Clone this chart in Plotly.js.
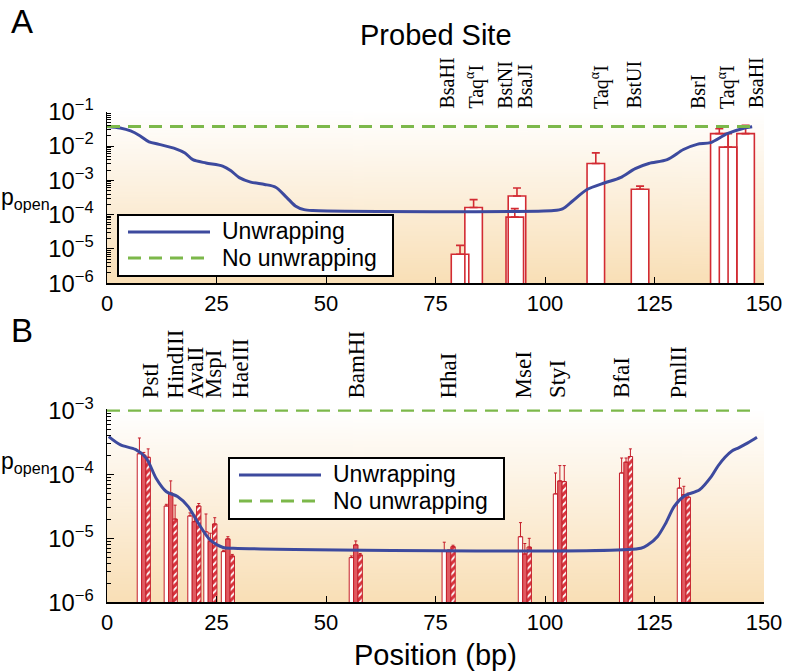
<!DOCTYPE html>
<html><head><meta charset="utf-8">
<script src="https://cdn.plot.ly/plotly-3.0.1.min.js"></script>
<style>html,body{margin:0;padding:0;background:#fff}</style>
</head><body><div id="chart" style="width:786px;height:672px"></div>
<script>
// ---------- Panel A data ----------
const curveA_x = [0, 3, 5.4, 7.5, 9.6, 11.9, 15.7, 17.8, 19.6, 22.6, 26.4, 28.3, 30.2, 32.8, 36, 38.5, 41, 43, 45, 47, 102, 104, 106.3, 109.6, 113.7, 117.2, 120.6, 123.7, 127.9, 131.6, 134.7, 137.8, 141.6, 145.4, 147.3];
const curveA_y = [0.0372, 0.0335, 0.0275, 0.0200, 0.0132, 0.0112, 0.0083, 0.0063, 0.0040, 0.0032, 0.0026, 0.0019, 0.0012, 0.00089, 0.00076, 0.00063, 0.00032, 0.00018, 0.00014, 0.000132, 0.000132, 0.000148, 0.00025, 0.00054, 0.00085, 0.0012, 0.0022, 0.0031, 0.0040, 0.0079, 0.0112, 0.0126, 0.0229, 0.0331, 0.0363];
const noUnwrapA_x = [0, 147];
const noUnwrapA_y = [0.037, 0.037];

const sitesA = ['BsaHI', 'Taq<sup>α</sup>I', 'BstNI', 'BsaJI', 'Taq<sup>α</sup>I', 'BstUI', 'BsrI', 'Taq<sup>α</sup>I', 'BsaHI'];
const labelPosA = [77.7, 84.0, 90.9, 95.4, 112.6, 120.3, 134.8, 141.4, 148.2];
const barA_x = [80.6, 83.7, 93.1, 93.6, 111.6, 121.7, 139.8, 141.8, 145.8];
const barA_y = [7.0e-6, 1.62e-4, 8.5e-5, 3.5e-4, 3.1e-3, 5.5e-4, 0.023, 0.0093, 0.023];
const barA_errTop = [1.27e-5, 2.75e-4, 1.5e-4, 6.0e-4, 6.3e-3, 6.8e-4, 0.032, 0.023, 0.040];

// ---------- Panel B data ----------
const curveB_x = [0.4, 3.1, 6.5, 9.0, 11.2, 13.5, 16.1, 18.5, 20.8, 23.5, 26.5, 28.8, 121.9, 123.5, 125.7, 127.6, 129.5, 131.8, 135.3, 138, 139.5, 141.1, 142.6, 144.2, 146.3, 148.4];
const curveB_y = [3.89e-4, 2.88e-4, 2.45e-4, 1.78e-4, 8.7e-5, 5.4e-5, 4.5e-5, 3.16e-5, 1.74e-5, 9.5e-6, 7.2e-6, 7.0e-6, 7.0e-6, 7.9e-6, 1.07e-5, 1.74e-5, 3.16e-5, 4.6e-5, 5.75e-5, 9.3e-5, 1.35e-4, 1.85e-4, 2.3e-4, 2.6e-4, 3.1e-4, 3.8e-4];
const noUnwrapB_x = [0, 148];
const noUnwrapB_y = [1e-3, 1e-3];

const sitesB = ['PstI', 'HindIII', 'AvaII', 'MspI', 'HaeIII', 'BamHI', 'HhaI', 'MseI', 'StyI', 'BfaI', 'PmlII'];
const labelPosB = [9.8, 15.7, 20.1, 24.5, 30.4, 56.9, 77.9, 95.1, 102.9, 117.6, 130.4];
const whiteB_x = [7.4, 13.55, 18.95, 22.6, 26.6, 55.8, 77.0, 94.4, 102.4, 117.5, 130.7];
const solidB_x = [8.4, 14.55, 19.95, 23.6, 27.6, 56.8, 78.0, 95.4, 103.4, 118.5, 131.7];
const hatchB_x = [9.4, 15.55, 20.95, 24.6, 28.6, 57.8, 79.0, 96.4, 104.4, 119.5, 132.7];
const whiteB_y = [2.1e-4, 3.2e-5, 2.24e-5, 1.26e-5, 6.2e-6, 5.0e-6, 6.4e-6, 1.06e-5, 4.95e-5, 1.05e-4, 6.1e-5];
const solidB_y = [2.0e-4, 5.1e-5, 1.82e-5, 8.9e-6, 9.8e-6, 7.9e-6, 6.2e-6, 5.7e-6, 7.9e-5, 1.55e-4, 4.8e-5];
const hatchB_y = [1.85e-4, 2.0e-5, 3.2e-5, 1.68e-5, 5.3e-6, 5.5e-6, 7.4e-6, 7.3e-6, 7.7e-5, 1.9e-4, 4.4e-5];
const whiteB_errTop = [3.7e-4, 3.4e-5, 2.5e-5, 2.4e-5, 6.5e-6, 5.3e-6, 8.7e-6, 1.76e-5, 1.05e-4, 1.8e-4, 8.7e-5];
const solidB_errTop = [2.2e-4, 7.9e-5, 2.3e-5, 1.2e-5, 1.06e-5, 9.1e-6, 6.6e-6, 8.3e-6, 1.37e-4, 1.8e-4, 6.5e-5];
const hatchB_errTop = [2.5e-4, 3.3e-5, 3.5e-5, 2.1e-5, 5.6e-6, 5.8e-6, 7.8e-6, 1.0e-5, 1.37e-4, 2.5e-4, 5.1e-5];

const seriesNames = ['Unwrapping', 'No unwrapping'];

// ---------- styling ----------
const W = 786, H = 672;
const SANS = 'Liberation Sans, Arial, sans-serif';
const SERIF = 'Liberation Serif, Times New Roman, serif';
const RED = '#d22b33', DKRED = '#c41e2a', BLUE = '#3d4a9e', GREEN = '#7cb84a';
const px = v => v / W, py = v => 1 - v / H;
const xDom = [px(107), px(764)];
const yDomA = [py(283.3), py(111.7)];
const yDomB = [py(602.3), py(409.4)];

const diff = (top, val) => top.map((t, i) => Math.max(t - val[i], 0));
const zeros = a => a.map(() => 0);

function gradientURI() {
  const c = document.createElement('canvas'); c.width = 4; c.height = 256;
  const g = c.getContext('2d');
  const lg = g.createLinearGradient(0, 0, 0, 256);
  lg.addColorStop(0, '#ffffff'); lg.addColorStop(1, '#f9dfb6');
  g.fillStyle = lg; g.fillRect(0, 0, 4, 256);
  return c.toDataURL();
}
const grad = gradientURI();

const traces = [];
// Panel A bars: fill pass then outline pass
traces.push({type: 'bar', x: barA_x, y: barA_y, width: 4, xaxis: 'x', yaxis: 'y', showlegend: false,
  marker: {color: 'white', line: {width: 0}}});
traces.push({type: 'bar', x: barA_x, y: barA_y, width: 4, xaxis: 'x', yaxis: 'y', showlegend: false,
  marker: {color: 'rgba(0,0,0,0)', line: {width: 1.6, color: RED}},
  error_y: {type: 'data', symmetric: false, array: diff(barA_errTop, barA_y), arrayminus: zeros(barA_y), color: RED, thickness: 1.6, width: 4}});
traces.push({type: 'scatter', mode: 'lines', x: curveA_x, y: curveA_y, name: seriesNames[0], showlegend: false,
  line: {color: BLUE, width: 3, shape: 'spline', smoothing: 0.8}, xaxis: 'x', yaxis: 'y'});
traces.push({type: 'scatter', mode: 'lines', x: noUnwrapA_x, y: noUnwrapA_y, name: seriesNames[1], showlegend: false,
  line: {color: GREEN, width: 3, dash: '13px,8px'}, xaxis: 'x', yaxis: 'y'});

// Panel B bars
traces.push({type: 'bar', x: whiteB_x, y: whiteB_y, width: 1, xaxis: 'x2', yaxis: 'y2', showlegend: false,
  marker: {color: 'white', line: {width: 1, color: DKRED}},
  error_y: {type: 'data', symmetric: false, array: diff(whiteB_errTop, whiteB_y), arrayminus: zeros(whiteB_y), color: DKRED, thickness: 1, width: 1.5}});
traces.push({type: 'bar', x: solidB_x, y: solidB_y, width: 1, xaxis: 'x2', yaxis: 'y2', showlegend: false,
  marker: {color: '#e05a61', line: {width: 1, color: DKRED}},
  error_y: {type: 'data', symmetric: false, array: diff(solidB_errTop, solidB_y), arrayminus: zeros(solidB_y), color: DKRED, thickness: 1, width: 1.5}});
traces.push({type: 'bar', x: hatchB_x, y: hatchB_y, width: 1, xaxis: 'x2', yaxis: 'y2', showlegend: false,
  marker: {color: '#d8343d', line: {width: 1, color: DKRED}, pattern: {shape: '/', bgcolor: '#d8343d', fgcolor: 'white', size: 5, solidity: 0.35, fillmode: 'replace'}},
  error_y: {type: 'data', symmetric: false, array: diff(hatchB_errTop, hatchB_y), arrayminus: zeros(hatchB_y), color: DKRED, thickness: 1, width: 1.5}});
traces.push({type: 'scatter', mode: 'lines', x: curveB_x, y: curveB_y, name: seriesNames[0], showlegend: false,
  line: {color: BLUE, width: 3, shape: 'spline', smoothing: 0.8}, xaxis: 'x2', yaxis: 'y2'});
traces.push({type: 'scatter', mode: 'lines', x: noUnwrapB_x, y: noUnwrapB_y, name: seriesNames[1], showlegend: false,
  line: {color: GREEN, width: 3, dash: '13px,8px'}, xaxis: 'x2', yaxis: 'y2'});

const xTicks = [0, 25, 50, 75, 100, 125, 150];
const xAxisCommon = {range: [0, 150], tickvals: xTicks, ticktext: xTicks.map(String), ticks: 'inside', ticklen: 6,
  tickcolor: '#000', showline: true, linecolor: '#000', linewidth: 1.5, showgrid: false, zeroline: false,
  tickfont: {family: SANS, size: 22, color: '#000'}, domain: xDom, fixedrange: true};
const yAxisCommon = {type: 'log', dtick: 1, exponentformat: 'power', ticks: 'inside', ticklen: 7, tickcolor: '#000',
  showline: true, linecolor: '#000', linewidth: 1.5, showgrid: false, zeroline: false, ticklabelstandoff: 8,
  minor: {ticks: 'inside', ticklen: 4, dtick: 'D1', tickcolor: '#000', showgrid: false},
  tickfont: {family: SANS, size: 19, color: '#000'}, fixedrange: true};

const annotations = [];
sitesA.forEach((s, i) => annotations.push({text: s, x: labelPosA[i], xref: 'x', y: yDomA[1], yref: 'paper',
  xanchor: 'center', yanchor: 'bottom', textangle: -90, showarrow: false, yshift: 1,
  font: {family: SERIF, size: 20, color: '#000'}}));
sitesB.forEach((s, i) => annotations.push({text: s, x: labelPosB[i], xref: 'x2', y: yDomB[1], yref: 'paper',
  xanchor: 'center', yanchor: 'bottom', textangle: -90, showarrow: false, yshift: 9,
  font: {family: SERIF, size: 23, color: '#000'}}));
const txt = (text, x, y, size, extra) => Object.assign({text, x: px(x), y: py(y), xref: 'paper', yref: 'paper',
  xanchor: 'center', yanchor: 'middle', showarrow: false, font: {family: SANS, size, color: '#000'}}, extra || {});
annotations.push(txt('A', 22, 22, 33));
annotations.push(txt('B', 22, 330, 33));
annotations.push(txt('Probed Site', 436, 35, 29));
annotations.push(txt('Position (bp)', 436, 655, 29));
annotations.push(txt('p<sub>open</sub>', 25, 198, 23));
annotations.push(txt('p<sub>open</sub>', 25, 462, 23));

// hand-made legend boxes (sample lines + labels), in page pixels
const shapes = [];
function legendBox(left, top) {
  shapes.push({type: 'rect', xref: 'paper', yref: 'paper', x0: px(left), x1: px(left + 275), y0: py(top), y1: py(top + 61),
    line: {color: '#000', width: 2}, fillcolor: 'white', layer: 'above'});
  shapes.push({type: 'line', xref: 'paper', yref: 'paper', x0: px(left + 10), x1: px(left + 92), y0: py(top + 17), y1: py(top + 17),
    line: {color: BLUE, width: 3}, layer: 'above'});
  shapes.push({type: 'line', xref: 'paper', yref: 'paper', x0: px(left + 10), x1: px(left + 92), y0: py(top + 43), y1: py(top + 43),
    line: {color: GREEN, width: 3, dash: '13px,8px'}, layer: 'above'});
  annotations.push(txt(seriesNames[0], left + 102, top + 16, 23, {xanchor: 'left'}));
  annotations.push(txt(seriesNames[1], left + 102, top + 43, 23, {xanchor: 'left'}));
}
legendBox(118, 215);
legendBox(229, 458);

const layout = {
  width: W, height: H, margin: {l: 0, r: 0, t: 0, b: 0},
  paper_bgcolor: 'white', plot_bgcolor: 'rgba(0,0,0,0)',
  barmode: 'overlay', bargap: 0, showlegend: false,
  xaxis: Object.assign({}, xAxisCommon, {anchor: 'y'}),
  yaxis: Object.assign({}, yAxisCommon, {range: [-6, -1], domain: yDomA, anchor: 'x'}),
  xaxis2: Object.assign({}, xAxisCommon, {anchor: 'y2'}),
  yaxis2: Object.assign({}, yAxisCommon, {range: [-6, -2.985], domain: yDomB, anchor: 'x2'}),
  images: [
    {source: grad, xref: 'paper', yref: 'paper', x: xDom[0], y: yDomA[1], sizex: xDom[1] - xDom[0], sizey: yDomA[1] - yDomA[0], sizing: 'stretch', xanchor: 'left', yanchor: 'top', layer: 'below'},
    {source: grad, xref: 'paper', yref: 'paper', x: xDom[0], y: yDomB[1], sizex: xDom[1] - xDom[0], sizey: yDomB[1] - yDomB[0], sizing: 'stretch', xanchor: 'left', yanchor: 'top', layer: 'below'}
  ],
  shapes,
  annotations
};

Plotly.newPlot('chart', traces, layout, {staticPlot: true, displayModeBar: false});
</script></body></html>
